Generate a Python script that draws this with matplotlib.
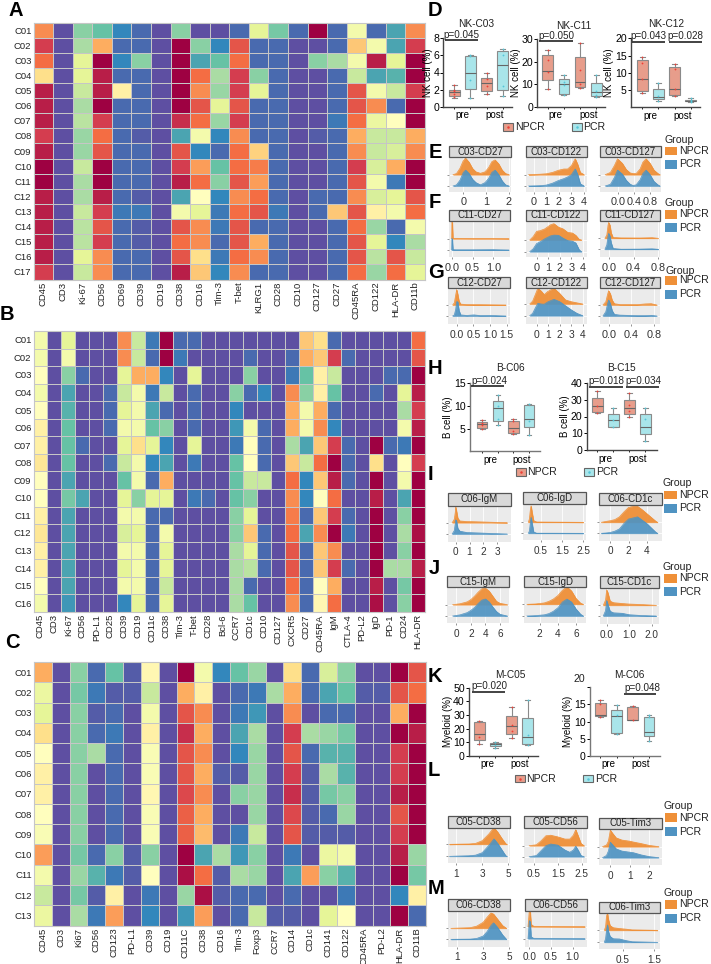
#!/usr/bin/env python3
"""Marker heatmaps (A-C), box plots and ridge plots (D-M) for NK, B and myeloid clusters."""

import matplotlib
matplotlib.use('Agg')
import matplotlib.pyplot as plt
from matplotlib.patches import Rectangle

plt.rcParams['font.family'] = ['Liberation Sans', 'DejaVu Sans']

W, H = 711, 964
NPCR_BOX, PCR_BOX = '#e79d8b', '#a9e5ea'
NPCR_DOT, PCR_DOT = '#ee3f36', '#55c6d8'
NPCR_RIDGE, PCR_RIDGE = '#ef9038', '#4f93c2'

# ---- heatmap values (expression colour rank, 0 = low, 20 = high)
rows_a = ['C%02d' % i for i in range(1, 18)]
markers_a = ['CD45', 'CD3', 'Ki-67', 'CD56', 'CD69', 'CD39', 'CD19', 'CD38', 'CD16', 'Tim-3', 'T-bet', 'KLRG1',
             'CD28', 'CD10', 'CD127', 'CD27', 'CD45RA', 'CD122', 'HLA-DR', 'CD11b']
values_a = [
    [15, 0, 5, 4, 2, 1, 0, 5, 0, 0, 1, 8, 4.5, 1, 20, 1, 9, 1, 3, 15],
    [18, 0, 6, 14, 1, 1, 0, 20, 5, 2, 17, 1, 1, 0, 0, 1, 13, 9, 3, 18],
    [16, 0, 8, 20, 2, 5, 0, 20, 3, 4, 16, 1, 1, 0, 5, 6, 9, 19, 8, 20],
    [12, 0, 8, 19, 1, 1, 0, 20, 16, 6, 18, 5, 1, 0, 0, 1, 7, 3, 3.5, 20],
    [19, 0, 7, 19, 11, 1, 0, 20, 15, 5.5, 18, 8, 1, 0, 0, 1, 17, 9, 7, 18],
    [19, 0, 6, 20, 1, 1, 0, 20, 17, 8, 17, 1, 1, 0, 0, 1, 17, 15, 1, 20],
    [19, 0, 6.5, 18, 1, 1, 0, 18.5, 16, 5.5, 18, 1, 1, 0, 0, 1.5, 16, 8.5, 10, 20],
    [18, 0, 5.5, 16, 1, 0.5, 0, 3, 9, 2, 15, 1, 1, 0, 0.5, 1, 14, 7, 7, 14],
    [19, 0, 5.5, 17, 1, 1, 0, 17, 2, 1, 16, 12.5, 1, 0, 0, 1, 15, 7, 7.5, 15],
    [20, 0, 7, 20, 1, 1, 0, 18, 14.5, 4, 16, 15.5, 1, 0, 0, 1, 18, 7.5, 14, 20],
    [20, 0, 6, 20, 1, 1, 0, 19, 16, 5, 17, 14.5, 1, 0, 0, 1, 17, 9, 1.5, 20],
    [19, 0, 6, 19, 1, 0.5, 0, 3, 10, 2, 15, 16, 1, 0, 1, 1, 15, 7.5, 8, 17],
    [19, 0, 7, 18, 1.5, 1.5, 0, 9, 8, 1.5, 16, 17, 1.5, 0, 1, 13, 17, 11, 9, 16],
    [19, 0, 6.5, 17, 1, 0.5, 0, 17, 15, 1.5, 17, 1, 1, 0, 0, 1, 16, 5.5, 1, 9],
    [19, 0, 6.5, 18, 1, 0.5, 0, 16, 15, 1, 17, 14, 1, 0, 0, 1, 17, 8, 2, 6],
    [19, 0, 8, 15, 1, 1, 0, 17, 12, 1.5, 16, 15, 1, 0, 0, 1, 17, 6.5, 17, 7],
    [18, 0, 7, 15, 1, 1, 0, 19, 13, 2, 15, 1, 1, 0, 0, 1, 16, 5.5, 16, 8],
]

rows_b = ['C%02d' % i for i in range(1, 17)]
markers_b = ['CD45', 'CD3', 'Ki-67', 'CD56', 'PD-L1', 'CD25', 'CD39', 'CD19', 'CD11c', 'CD38', 'Tim-3', 'T-bet',
             'CD28', 'Bcl-6', 'CCR7', 'CD1c', 'CD10', 'CD127', 'CXCR5', 'CD27', 'CD45RA', 'IgM', 'CTLA-4', 'PD-L2',
             'IgD', 'PD-1', 'CD24', 'HLA-DR']
values_b = [
    [9, 0, 8, 0, 0, 0, 15, 7, 1.5, 20, 1, 1, 0, 0, 0, 0, 0, 0, 0, 13, 12, 1, 0, 0, 0, 0, 0, 16],
    [9, 0, 9, 0, 0, 0, 15, 7, 1, 20, 1.5, 0, 0, 0, 0, 1, 0, 0, 1, 14, 13, 18, 1, 0, 0, 0, 0, 17],
    [10, 0, 5, 1, 0, 0, 8, 14, 14, 2, 0, 8, 0, 0, 0, 5, 0, 0, 1.5, 4, 11, 7, 0, 0, 0, 1, 1, 20],
    [9, 0, 3, 0, 0, 1, 7, 9, 1.5, 7, 0, 1, 0, 0, 5, 1, 2, 0, 15, 5, 11, 4, 0, 0, 1, 0, 8, 19],
    [10, 0, 3.5, 0, 0, 1, 8, 9, 3, 1, 0, 1, 0, 0, 2, 0, 0, 0, 14, 9, 14, 1, 0, 0, 0, 0, 6, 18],
    [11, 0, 4, 0, 0, 1, 9, 9, 4, 5, 0, 1, 0, 0, 2.5, 9, 1, 0, 14, 9, 15, 2, 0, 0, 0, 0, 9, 19],
    [11, 0, 4, 1, 0, 0, 8, 12, 8, 2, 0, 8, 0, 0, 1.5, 10, 1, 0, 6, 3, 13, 18, 1, 0, 20, 1, 1.5, 20],
    [11.5, 0, 4, 0, 0, 1, 7, 9, 2, 3, 0, 1.5, 0, 0, 4, 10, 1, 0, 13, 7, 16, 20, 1, 0, 12, 0, 10, 18],
    [10, 0, 3, 0, 0, 0, 4, 9, 1, 14, 0, 0, 0, 0, 4, 7, 7, 0, 16, 2, 13, 19, 1, 0, 20, 0, 9, 20],
    [10, 0, 4.5, 3, 0, 0, 8, 5, 8, 8, 0, 1.5, 1, 0, 4, 5, 0, 0, 15, 2, 10, 16, 0, 0, 19, 0, 3, 20],
    [11, 0, 3, 0, 0, 0, 9, 9, 1, 1, 0, 0, 0, 0, 5, 8, 0, 0, 15.5, 1, 13, 18, 1, 0, 20, 0, 5, 20],
    [11.5, 0, 3, 0, 0, 0, 7.5, 8, 1, 9, 0, 0, 0, 0, 5, 13, 1, 0, 16, 3, 15, 20, 1.5, 0, 20, 0, 6, 19.5],
    [11, 0, 3, 0, 0, 0, 9, 9, 1, 8, 0, 0, 0, 0, 6, 8, 1, 0, 17, 1, 13, 15, 0, 0, 20, 0, 5, 20],
    [11, 0, 3, 0, 0, 0, 8, 9, 1, 8, 0, 0, 0, 0, 6, 6.5, 1, 0, 17, 1, 13, 18, 1, 0, 20, 6, 6, 19],
    [10, 0, 3, 0, 0, 0, 9, 9, 1, 7, 0, 0, 0, 0, 6, 1, 0, 0, 16, 1, 10, 14, 0, 0, 19, 0, 4.5, 20],
    [9, 0, 2.5, 0, 0, 0, 2, 8, 1, 8, 0, 0, 0, 0, 6, 4, 0, 0, 15, 1, 10.5, 16, 0, 0, 19.5, 0, 5, 20],
]

rows_c = ['C%02d' % i for i in range(1, 14)]
markers_c = ['CD45', 'CD3', 'Ki67', 'CD56', 'CD123', 'PD-L1', 'CD39', 'CD19', 'CD11C', 'CD38', 'CD16', 'Tim-3',
             'Foxp3', 'CCR7', 'CD14', 'CD1c', 'CD141', 'CD122', 'CD45RA', 'PD-L2', 'HLA-DR', 'CD11B']
values_c = [
    [14, 0, 5, 1, 4, 0.5, 10.5, 0, 20, 9, 2, 4, 5.5, 0, 12, 1, 7.5, 5, 0, 0, 20, 17],
    [8.5, 0, 4.5, 1.5, 0.5, 0.5, 7, 0, 14, 11, 0, 1, 1.5, 6, 14, 1, 3, 4, 0.5, 0.5, 17, 16],
    [8, 0, 5, 0.5, 1, 0, 9, 0, 17, 15, 0, 1.5, 2.5, 0, 15, 0, 1, 1, 0, 0, 14, 20],
    [12, 0, 5, 1, 1.5, 0, 11, 0, 18.5, 14, 0, 3, 6, 0, 18, 6, 5.5, 4.5, 0, 0, 20, 19],
    [10, 0, 5, 6, 1, 0, 9.5, 0, 17, 15, 0, 2, 5.5, 0, 17, 1, 3.5, 3.5, 0, 0, 18, 20],
    [11, 0, 5, 0, 1, 0, 9.5, 0, 17, 14, 0.5, 0.5, 5.5, 0, 18, 0.5, 6, 3.5, 0, 0, 18, 20],
    [11, 0, 5, 0, 1, 0, 10.5, 0, 17.5, 15, 0, 5, 5.5, 0, 18.5, 0.5, 4.5, 5, 0, 0, 19, 20],
    [10, 0, 5, 0, 1, 0, 9.5, 0, 16.5, 14, 0, 0, 5.5, 0, 17.5, 0.5, 1, 5.5, 0, 0, 17, 20],
    [9.5, 0, 5, 0, 1, 0, 9.5, 0, 16.5, 13.5, 0, 1.5, 7, 0, 17, 0.5, 0.5, 0.5, 0, 0, 18, 20],
    [14.5, 0, 4.5, 1, 5, 0.5, 5, 0, 20, 3, 6, 2.5, 5, 0, 1.5, 0, 8.5, 9, 0, 0, 19, 5.5],
    [9, 0, 5.5, 3.5, 1.5, 0.5, 10, 0, 19.5, 16, 0.5, 6, 5.5, 0, 3, 14.5, 5, 3.5, 0, 0, 20, 4.5],
    [7, 0, 4.5, 0.5, 11, 0, 1.5, 0, 5.5, 19.5, 0.5, 1, 1, 0, 1, 0, 0, 1.5, 0, 0, 2, 11],
    [8.5, 0, 6, 1.5, 14.5, 0, 2, 0, 2.5, 14.5, 0, 1, 7, 0.5, 0.5, 0, 8, 10, 0, 0, 20, 1],
]

# ---- box plot stats per box: whisker low, q1, median, q3, whisker high (order NPCR pre, PCR pre, NPCR post, PCR post)
nk_c03_stats = [[1.05, 1.25, 1.7, 2.0, 2.5], [1.0, 2.05, 3.9, 5.9, 6.0], [1.5, 1.8, 2.8, 3.4, 4.0], [1.2, 1.9, 4.9, 6.5, 6.7]]
nk_c03_points = [[1.1, 1.5, 1.8, 2.0, 2.5], [1.0, 3.1, 5.9, 6.0], [1.5, 2.4, 3.2, 4.0], [1.2, 2.4, 6.1, 6.7]]
nk_c11_stats = [[8.0, 11.8, 15.9, 22.9, 25.0], [5.1, 5.9, 10.1, 12.2, 14.0], [8.2, 9.0, 10.9, 22.2, 28.4], [4.4, 4.9, 6.5, 10.4, 14.0]]
nk_c11_points = [[8.0, 15.5, 20.8, 25.0], [5.1, 9.5, 11.0, 14.0], [8.2, 10.2, 16.2, 28.4], [4.4, 5.5, 7.2, 14.0]]
nk_c12_stats = [[4.2, 4.7, 8.1, 13.7, 14.7], [1.9, 2.5, 2.9, 5.2, 6.9], [3.3, 3.6, 5.3, 11.7, 12.6], [1.5, 1.7, 1.9, 2.2, 2.6]]
nk_c12_points = [[4.2, 8.1, 12.8, 14.7], [1.9, 3.2, 6.9], [3.3, 5.2, 11.2, 12.6], [1.5, 1.9, 2.1, 2.6]]
b_c06_stats = [[5.0, 5.1, 6.0, 6.4, 7.0], [5.9, 6.8, 9.6, 11.2, 12.5], [3.9, 4.1, 5.1, 6.8, 7.1], [3.7, 5.3, 7.2, 10.2, 10.4]]
b_c06_points = [[5.0, 5.8, 6.2, 7.0], [5.9, 7.2, 10.0, 12.5], [3.9, 4.4, 6.8, 7.1], [3.7, 6.8, 10.4]]
b_c15_stats = [[21.9, 22.5, 26.2, 30.9, 35.2], [13.6, 14.0, 17.9, 21.3, 24.8], [19.5, 21.5, 25.0, 30.0, 34.0], [5.5, 9.5, 13.8, 21.7, 25.2]]
b_c15_points = [[21.9, 26.5, 35.2], [13.6, 18.0, 24.8], [19.5, 23.0, 27.0, 34.0], [5.5, 18.5, 25.2]]
m_c05_stats = [[8.8, 11.7, 15.9, 24.6, 25.4], [6.0, 7.0, 8.5, 9.5, 10.0], [13.0, 15.9, 22.0, 29.5, 35.9], [7.8, 8.5, 13.6, 28.0, 41.0]]
m_c05_points = [[8.8, 14.0, 25.4], [6.0, 8.0, 10.0], [13.0, 18.0, 22.5, 35.9], [7.8, 15.5, 41.0]]
m_c06_stats = [[11.2, 11.5, 11.9, 15.5, 16.2], [6.4, 6.7, 11.5, 13.2, 14.9], [10.4, 10.4, 10.5, 14.2, 14.5], [4.3, 5.7, 6.9, 11.2, 12.0]]
m_c06_points = [[11.2, 15.2, 16.2], [6.4, 11.8, 14.9], [10.4, 14.5], [4.3, 11.2, 12.0]]

# ---- ridge curves: x positions, then height above the ridge baseline (1 = spacing between baselines)
c03_cd27_x = [-0.45, -0.3, -0.15, 0, 0.1, 0.25, 0.4, 0.55, 0.75, 0.95, 1.1, 1.25, 1.39, 1.55, 1.7, 1.85, 2.0]
c03_cd27_n = [0, .1, .55, 1.25, 1.45, 1.1, .55, .25, .12, .25, .6, 1.15, 1.3, .95, .4, .1, 0]
c03_cd27_p = [0, .1, .5, 1.2, 1.4, 1.1, .6, .3, .1, .3, .65, 1.2, 1.4, 1.0, .45, .1, 0]
c03_cd122_x = [-.4, .5, 1, 1.5, 2, 2.4, 2.7, 3, 3.3, 3.5, 3.7, 4]
c03_cd122_n = [0, .04, .08, .2, .4, .5, .5, .8, 1.4, .9, .2, 0]
c03_cd122_p = [0, .03, .08, .25, .5, .65, .8, 1.0, 1.5, 1.0, .2, 0]
c03_cd127_x = [-.33, -.2, -.1, -.02, .1, .2, .3, .37, .45, .55, .62, .7, .8, .9, 1.0, 1.05]
c03_cd127_n = [0, .2, .8, 1.4, 1.0, .45, .15, .1, .1, .5, 1.1, 1.4, 1.0, .4, .1, 0]
c03_cd127_p = [0, .15, .75, 1.4, 1.05, .5, .15, .05, .1, .55, 1.1, 1.4, 1.0, .4, .1, 0]

c11_cd27_x = [0, .005, .015, .03, .1, .5, 1, 1.37]
c11_cd27_n = [0, 1.45, 1.45, .03, .03, .02, .02, 0]
c11_cd27_p = [0, 1.0, 1.0, .03, .02, .02, .03, 0]
c11_cd122_x = [-.6, -.3, 0, .3, .7, 1.2, 1.5, 1.9, 2.3, 2.7, 3.1, 3.4, 3.7, 3.9]
c11_cd122_n = [0, .3, .75, .8, .95, 1.3, 1.4, 1.1, .95, .65, .6, .4, .05, 0]
c11_cd122_p = [0, .25, .7, .85, 1.1, 1.35, 1.42, 1.4, 1.15, .95, .9, .75, .15, 0]
c11_cd127_x = [-.06, -.03, -.01, 0, .02, .04, .07, .2, .5, .7, .8]
c11_cd127_n = [0, .3, 1.2, 1.45, 1.2, .5, .08, .04, .03, .06, 0]
c11_cd127_p = [0, .4, 1.2, 1.45, 1.2, .6, .08, .01, .02, .05, 0]

c12_cd27_x = [-.12, -.07, -.03, 0, .03, .07, .12, .3, .52, .7, 1, 1.47]
c12_cd27_n = [0, .2, .9, 1.4, 1.0, .35, .08, .04, .03, .03, .02, 0]
c12_cd27_p = [0, .1, .6, 1.3, 1.3, .5, .1, .05, .1, .04, .05, 0]
c12_cd122_x = [-.6, -.35, -.1, .1, .4, .65, 1, 1.5, 2, 2.5, 3, 3.5, 4]
c12_cd122_n = [0, .25, .85, 1.35, 1.1, .8, 1.1, 1.35, .9, .35, .2, .1, 0]
c12_cd122_p = [0, .2, .7, 1.05, 1.0, .98, 1.2, 1.4, 1.2, .85, .5, .2, 0]
c12_cd127_x = [-.1, -.05, -.02, 0, .03, .06, .1, .2, .5, .65, .75, .85]
c12_cd127_n = [0, .3, .95, 1.3, 1.0, .45, .12, .04, .03, .1, .12, 0]
c12_cd127_p = [0, .4, 1.1, 1.45, 1.1, .5, .15, .08, .03, .03, .06, 0]

c06_igm_x = [-.25, -.1, -.03, 0, .05, .15, .3, .8, 1.5, 2.5, 3.7]
c06_igm_n = [0, .3, .9, 1.4, 1.1, .4, .15, .1, .08, .04, 0]
c06_igm_p = [0, .3, .9, 1.25, 1.2, .5, .25, .13, .1, .05, 0]
c06_igd_x = [-.1, -.05, 0, .03, .08, .15, .3, 1, 2.5]
c06_igd_n = [0, .3, 1.2, 1.5, .9, .15, .03, .02, 0]
c06_igd_p = [0, .2, 1.0, 1.45, .9, .12, .01, .01, 0]
c06_cd1c_x = [-1, -.5, 0, .5, 1, 1.5, 2, 2.5, 3, 3.5, 4, 4.5, 5, 5.2]
c06_cd1c_n = [0, .08, .15, .25, .5, .95, 1.35, 1.45, 1.45, 1.15, .8, .45, .1, 0]
c06_cd1c_p = [0, .03, .08, .2, .4, .9, 1.3, 1.4, 1.5, 1.2, .9, .5, .1, 0]

c15_igm_x = [-.5, .5, 1.5, 2, 2.5, 3, 3.5, 4, 4.5, 5, 5.5, 6, 7]
c15_igm_n = [0, .08, .25, .45, .75, 1.1, 1.4, 1.45, 1.2, .75, .3, .12, 0]
c15_igm_p = [0, .1, .3, .5, .75, 1.1, 1.4, 1.5, 1.25, .8, .4, .15, 0]
c15_igd_x = [.6, 1.5, 2.5, 3, 3.5, 4, 4.5, 5, 5.5, 6, 6.5, 6.8]
c15_igd_n = [0, .03, .12, .25, .45, .75, 1.2, 1.5, 1.15, .5, .1, 0]
c15_igd_p = [0, .03, .1, .2, .4, .7, 1.2, 1.45, 1.2, .6, .15, 0]
c15_cd1c_x = [-.15, -.05, 0, .05, .15, .3, .7, 1, 1.5, 2.2]
c15_cd1c_n = [0, .5, 1.45, 1.2, .4, .25, .17, .12, .08, 0]
c15_cd1c_p = [0, .5, 1.45, 1.1, .45, .3, .25, .12, .05, 0]

c05_cd38_x = [.5, 2, 2.5, 3, 3.5, 3.9, 4.2, 4.5, 4.8, 4.9]
c05_cd38_n = [0, .03, .08, .3, .85, 1.4, 1.0, .5, .05, 0]
c05_cd38_p = [0, .05, .1, .3, .9, 1.45, 1.05, .55, .05, 0]
c05_cd56_x = [.3, .6, .8, 1, 1.2, 1.5, 1.8, 2, 2.15, 2.25, 2.35, 2.47, 2.6]
c05_cd56_n = [0, .08, .45, .9, .95, .8, .6, .6, .95, 1.45, .9, .2, 0]
c05_cd56_p = [0, .1, .55, 1.0, 1.15, 1.05, .6, .4, .6, .95, .6, .1, 0]
c05_tim3_x = [-.4, -.2, -.1, 0, .1, .3, .6, 1, 1.2, 1.6, 2, 2.5]
c05_tim3_n = [0, .15, .5, 1.5, 1.25, .8, .6, .5, .42, .28, .12, 0]
c05_tim3_p = [0, .2, .6, 1.4, 1.2, .8, .6, .5, .45, .25, .1, 0]

c06_cd38_x = [.5, 2, 2.5, 3, 3.3, 3.6, 3.8, 4.1, 4.5, 4.8]
c06_cd38_n = [0, .06, .2, .55, 1.0, 1.4, 1.3, .85, .25, 0]
c06_cd38_p = [0, .02, .08, .3, .7, 1.25, 1.5, 1.1, .4, 0]
c06_cd56_x = [-.03, 0, .02, .04, .1, .5, 1.28]
c06_cd56_n = [0, 1.4, 1.3, .2, .03, .02, 0]
c06_cd56_p = [0, 1.5, 1.4, .15, .03, .02, 0]
c06_tim3_x = [-.08, -.04, -.01, .02, .05, .1, .2, .4, .6, .8, 1.6]
c06_tim3_n = [0, .3, 1.2, 1.4, .9, .4, .22, .15, .1, .04, 0]
c06_tim3_p = [0, .3, 1.0, 1.45, .9, .5, .3, .28, .15, .05, 0]


def add_axes(fig, x0, y0, x1, y1):
    # pixel rectangle, y measured from the top of the image
    return fig.add_axes([x0 / W, 1 - y1 / H, (x1 - x0) / W, (y1 - y0) / H])


def heatmap(fig, box, values, rows, markers):
    ax = add_axes(fig, *box)
    ax.pcolormesh(values, cmap='Spectral_r', vmin=0, vmax=20, edgecolors='#c6c6c6', linewidth=0.5)
    ax.invert_yaxis()
    ax.set_xticks([i + 0.5 for i in range(len(markers))], markers, rotation=90, fontsize=6.8)
    ax.set_yticks([i + 0.5 for i in range(len(rows))], rows, fontsize=6.8)
    ax.tick_params(length=0, pad=1.5, colors='#222222')
    for s in ax.spines.values():
        s.set_color('#c6c6c6')
        s.set_linewidth(0.8)


def box_panel(fig, ox, oy, zx0, zx1, ztop, zbot, zfirst, zstep, ymax, yticks, ylabel, title, ztitle, stats, points,
              spine='#444444', hide_labels=()):
    # z* values are read on a 3x crop whose top-left corner is (ox, oy)
    x0, x1 = ox + zx0 / 3, ox + zx1 / 3
    ax = add_axes(fig, x0, oy + ztop / 3, x1, oy + zbot / 3)
    first, step = ox + zfirst / 3, zstep / 3
    ax.set_xlim(1 + (x0 - first) / step, 1 + (x1 - first) / step)
    ax.set_ylim(0, ymax)
    bxp_stats = [dict(whislo=s[0], q1=s[1], med=s[2], q3=s[3], whishi=s[4], fliers=[]) for s in stats]
    art = ax.bxp(bxp_stats, positions=[1, 2, 3, 4], widths=0.66, capwidths=0.3, patch_artist=True, showfliers=False,
                 manage_ticks=False, boxprops=dict(edgecolor='#8a8a8a', linewidth=0.8),
                 whiskerprops=dict(color='#8a8a8a', linewidth=0.8), capprops=dict(color='#8a8a8a', linewidth=0.8),
                 medianprops=dict(color='#666666', linewidth=0.8))
    for i, b in enumerate(art['boxes']):
        b.set_facecolor(NPCR_BOX if i % 2 == 0 else PCR_BOX)
    for i, vals in enumerate(points):
        ax.plot([i + 1] * len(vals), vals, ls='none', marker='o', ms=1.3, mew=0,
                color=NPCR_DOT if i % 2 == 0 else PCR_DOT, zorder=5)
    ax.spines[['top', 'right']].set_visible(False)
    ax.spines[['left', 'bottom']].set_color(spine)
    ax.spines[['left', 'bottom']].set_linewidth(1.0)
    ylabels = ['' if t in hide_labels else str(t) for t in yticks]
    ax.set_yticks(yticks, ylabels, fontsize=7.6)
    ax.set_xticks([1, 2, 3, 4], [])
    ax.set_xticks([1.5, 3.5], ['pre', 'post'], minor=True, fontsize=7.0)
    ax.tick_params(axis='y', length=2, pad=1, width=0.7)
    ax.tick_params(axis='x', which='major', length=1.5, width=0.6)
    ax.tick_params(axis='x', which='minor', length=0, pad=2.5)
    ax.set_ylabel(ylabel, fontsize=7.0, labelpad=0.5)
    ax.patch.set_alpha(0)
    overlay.text(ox + ztitle[0] / 3, oy + ztitle[1] / 3, title, ha='center', va='center', fontsize=7.3, color='#222222')


def sig_bar(ox, oy, zx0, zx1, zbar, ztext_x, ztext_y, label):
    overlay.plot([ox + zx0 / 3, ox + zx1 / 3], [oy + zbar / 3] * 2, color='#222222', lw=1.2, solid_capstyle='butt')
    overlay.text(ox + ztext_x / 3, oy + ztext_y / 3, label, ha='center', va='center', fontsize=7.1, color='#222222')


def box_legend(ox, oy, zx_npcr, zx_pcr, zy):
    for zx, fc, dot, name in [(zx_npcr, NPCR_BOX, NPCR_DOT, 'NPCR'), (zx_pcr, PCR_BOX, PCR_DOT, 'PCR')]:
        overlay.add_patch(Rectangle((ox + zx / 3, oy + zy / 3 - 3.6), 10, 7.2, fc=fc, ec='#666666', lw=0.8))
        overlay.plot([ox + zx / 3 + 5], [oy + zy / 3], marker='o', ms=1.8, mew=0, color=dot)
        overlay.text(ox + zx / 3 + 11.5, oy + zy / 3, name, ha='left', va='center', fontsize=7.6, color='#222222')


def ridge(fig, ox, oy, zx0, zx1, zs0, zs1, zbot, zn, zp, ticks, labels, ztick, name, xs, npcr, pcr, tick_fs=7.2):
    # zs0/zs1: strip top and bottom, zn/zp: NPCR and PCR baselines, ztick: crop x of first and last tick
    x0, x1 = ox + zx0 / 3, ox + zx1 / 3
    strip_y0, strip_y1, bot = oy + zs0 / 3, oy + zs1 / 3, oy + zbot / 3
    base_n, base_p = oy + zn / 3, oy + zp / 3
    ax = add_axes(fig, x0, strip_y1, x1, bot)
    ax.set_facecolor('#ebebeb')
    t0, t1 = ox + ztick[0] / 3, ox + ztick[1] / 3
    per_px = (ticks[-1] - ticks[0]) / (t1 - t0)
    ax.set_xlim(ticks[0] + (x0 - t0) * per_px, ticks[0] + (x1 - t0) * per_px)
    spacing = base_p - base_n
    ax.set_ylim(1 - (bot - base_p) / spacing, 1 + (base_p - strip_y1) / spacing)
    ax.set_axisbelow(True)
    ax.grid(True, color='white', lw=0.6)
    ax.fill_between(xs, 2, [2 + v for v in npcr], color=NPCR_RIDGE, alpha=0.95, lw=0.4, zorder=3)
    ax.plot(xs, [2 + v for v in npcr], color=NPCR_RIDGE, lw=0.5, zorder=3)
    ax.fill_between(xs, 1, [1 + v for v in pcr], color=PCR_RIDGE, alpha=0.92, lw=0.4, zorder=4)
    ax.plot(xs, [1 + v for v in pcr], color=PCR_RIDGE, lw=0.5, zorder=4)
    ax.set_xticks(ticks, labels, fontsize=tick_fs)
    ax.set_yticks([1, 2], [])
    ax.tick_params(axis='x', length=1.5, width=0.5, color='#666666', pad=2.5, labelcolor='#333333')
    ax.tick_params(axis='y', length=1.2, width=0.5, color='#666666')
    for s in ax.spines.values():
        s.set_visible(False)
    overlay.add_patch(Rectangle((x0, strip_y0), x1 - x0, strip_y1 - strip_y0, fc='#d9d9d9', ec='#555555', lw=0.9))
    overlay.text((x0 + x1) / 2, (strip_y0 + strip_y1) / 2, name, ha='center', va='center', fontsize=7.0, color='#222222')


def group_legend(ox, oy, ztitle_x, ztitle_y, zx, zy_npcr, zy_pcr):
    overlay.text(ox + ztitle_x / 3, oy + ztitle_y / 3, 'Group', ha='left', va='center', fontsize=7.6, color='#222222')
    for zy, col, name in [(zy_npcr, NPCR_RIDGE, 'NPCR'), (zy_pcr, PCR_RIDGE, 'PCR')]:
        overlay.add_patch(Rectangle((ox + zx / 3, oy + zy / 3), 12.3, 8.7, fc=col, ec='none'))
        overlay.text(ox + zx / 3 + 14.5, oy + zy / 3 + 4.3, name, ha='left', va='center', fontsize=7.6, color='#222222')


fig = plt.figure(figsize=(W / 100, H / 100), dpi=100)
overlay = add_axes(fig, 0, 0, W, H)
overlay.set_xlim(0, W)
overlay.set_ylim(H, 0)
overlay.axis('off')
overlay.set_zorder(10)

heatmap(fig, (33.5, 22.5, 425, 279.5), values_a, rows_a, markers_a)
heatmap(fig, (33.5, 331, 425, 612), values_b, rows_b, markers_b)
heatmap(fig, (34, 662, 426, 925.5), values_c, rows_c, markers_c)

# D
box_panel(fig, 425, 0, 55, 262, 115, 320, 88, 48.3, 8, [0, 2, 4, 6, 8], 'NK cell (%)', 'NK-C03', (155, 72), nk_c03_stats, nk_c03_points)
box_panel(fig, 425, 0, 337, 540, 117, 321, 368, 48.7, 30, [0, 10, 20, 30], 'NK cell (%)', 'NK-C11', (447, 78), nk_c11_stats, nk_c11_points)
box_panel(fig, 425, 0, 618, 825, 115, 321.6, 652, 48.3, 20, [5, 10, 15, 20], 'NK cell (%)', 'NK-C12', (722, 72), nk_c12_stats, nk_c12_points)
sig_bar(425, 0, 60, 160, 121, 110, 105, 'p=0.045')
sig_bar(425, 0, 343, 445, 123, 394, 108, 'p=0.050')
sig_bar(425, 0, 620, 720, 126, 670, 108, 'p=0.043')
sig_bar(425, 0, 733, 832, 126, 782, 108, 'p=0.028')
box_legend(425, 0, 235, 440, 381)

# E, F, G
ridge(fig, 425, 140, 72, 258, 18, 52, 155, 104, 138, [0, 1, 2], ['0', '1', '2'], (115, 252), 'C03-CD27', c03_cd27_x, c03_cd27_n, c03_cd27_p, tick_fs=7.8)
ridge(fig, 425, 140, 302, 487, 18, 52, 155, 104, 138, [0, 1, 2, 3, 4], ['0', '1', '2', '3', '4'], (326, 477), 'C03-CD122', c03_cd122_x, c03_cd122_n, c03_cd122_p, tick_fs=7.8)
ridge(fig, 425, 140, 525, 708, 18, 52, 155, 104, 138, [0.0, 0.4, 0.8], ['0.0', '0.4', '0.8'], (580, 675), 'C03-CD127', c03_cd127_x, c03_cd127_n, c03_cd127_p, tick_fs=7.8)
ridge(fig, 425, 140, 72, 255, 210, 243, 352, 296, 330, [0.0, 0.5, 1.0], ['0.0', '0.5', '1.0'], (80, 205), 'C11-CD27', c11_cd27_x, c11_cd27_n, c11_cd27_p, tick_fs=7.8)
ridge(fig, 425, 140, 302, 485, 210, 243, 352, 300, 335, [0, 1, 2, 3, 4], ['0', '1', '2', '3', '4'], (335, 473), 'C11-CD122', c11_cd122_x, c11_cd122_n, c11_cd122_p, tick_fs=7.8)
ridge(fig, 425, 140, 525, 705, 210, 243, 352, 295, 328, [0.0, 0.4, 0.8], ['0.0', '0.4', '0.8'], (551, 700), 'C11-CD127', c11_cd127_x, c11_cd127_n, c11_cd127_p, tick_fs=7.8)
ridge(fig, 425, 140, 70, 255, 410, 445, 553, 495, 528, [0.0, 0.5, 1.0, 1.5], ['0.0', '0.5', '1.0', '1.5'], (95, 245), 'C12-CD27', c12_cd27_x, c12_cd27_n, c12_cd27_p, tick_fs=7.4)
ridge(fig, 425, 140, 302, 485, 410, 445, 553, 492, 527, [0, 1, 2, 3, 4], ['0', '1', '2', '3', '4'], (335, 473), 'C12-CD122', c12_cd122_x, c12_cd122_n, c12_cd122_p, tick_fs=7.4)
ridge(fig, 425, 140, 525, 705, 410, 445, 553, 495, 528, [0.0, 0.4, 0.8], ['0.0', '0.4', '0.8'], (551, 687), 'C12-CD127', c12_cd127_x, c12_cd127_n, c12_cd127_p, tick_fs=7.8)
group_legend(425, 140, 718, 0, 720, 20, 60)
group_legend(425, 140, 718, 190, 720, 210, 250)
group_legend(425, 140, 722, 393, 720, 408, 450)

# H
box_panel(fig, 425, 335, 135, 345, 145, 349, 172, 46.7, 15, [5, 10, 15], 'B cell (%)', 'B-C06', (257, 98), b_c06_stats, b_c06_points, spine='#777777')
box_panel(fig, 425, 335, 485, 695, 143, 346, 517, 48, 40, [0, 10, 20, 30, 40], 'B cell (%)', 'B-C15', (590, 100), b_c15_stats, b_c15_points)
sig_bar(425, 335, 138, 237, 153, 194, 138, 'p=0.024')
sig_bar(425, 335, 493, 595, 157, 544, 138, 'p=0.018')
sig_bar(425, 335, 603, 702, 157, 654, 138, 'p=0.034')
box_legend(425, 460, 273, 478, 36)

# I, J
ridge(fig, 425, 460, 70, 257, 100, 137, 245, 188, 222, [0, 1, 2, 3], ['0', '1', '2', '3'], (92, 217), 'C06-IgM', c06_igm_x, c06_igm_n, c06_igm_p)
ridge(fig, 425, 460, 295, 482, 97, 133, 240, 187, 220, [0.5, 1.5, 2.5], ['0.5', '1.5', '2.5'], (348, 475), 'C06-IgD', c06_igd_x, c06_igd_n, c06_igd_p)
ridge(fig, 425, 460, 523, 710, 100, 135, 242, 187, 220, [0, 2, 4], ['0', '2', '4'], (556, 665), 'C06-CD1c', c06_cd1c_x, c06_cd1c_n, c06_cd1c_p)
ridge(fig, 425, 460, 67, 253, 348, 382, 490, 434, 468, [0, 2, 4, 6], ['0', '2', '4', '6'], (94, 225), 'C15-IgM', c15_igm_x, c15_igm_n, c15_igm_p)
ridge(fig, 425, 460, 297, 483, 348, 382, 490, 433, 468, [2, 4, 6], ['2', '4', '6'], (344, 453), 'C15-IgD', c15_igd_x, c15_igd_n, c15_igd_p)
ridge(fig, 425, 460, 525, 702, 348, 385, 492, 436, 468, [0.0, 1.0, 2.0], ['0.0', '1.0', '2.0'], (545, 680), 'C15-CD1c', c15_cd1c_x, c15_cd1c_n, c15_cd1c_p)
group_legend(425, 460, 713, 70, 718, 92, 132)
group_legend(425, 460, 713, 320, 718, 342, 382)

# K
box_panel(fig, 425, 625, 132, 340, 188, 393, 163, 48.3, 50, [0, 10, 20, 30, 40, 50], 'Myeloid (%)', 'M-C05', (257, 149), m_c05_stats, m_c05_points)
box_panel(fig, 425, 625, 495, 705, 186, 393, 526, 48.7, 20, [0, 5, 10, 15, 20], 'Myeloid (%)', 'M-C06', (613, 149), m_c06_stats, m_c06_points, spine='#777777', hide_labels=(20,))
overlay.text(425 + 462 / 3, 625 + 163 / 3, '20', ha='center', va='center', fontsize=7.6, color='#222222')
sig_bar(425, 625, 142, 240, 200, 194, 182, 'p=0.020')
sig_bar(425, 625, 596, 692, 206, 653, 188, 'p=0.048')
box_legend(425, 750, 270, 475, 86)

# L, M
ridge(fig, 425, 750, 68, 255, 198, 235, 340, 283, 319, [1, 3, 5], ['1', '3', '5'], (93, 250), 'C05-CD38', c05_cd38_x, c05_cd38_n, c05_cd38_p)
ridge(fig, 425, 750, 298, 485, 198, 235, 340, 287, 320, [0.5, 1.5, 2.5], ['0.5', '1.5', '2.5'], (327, 470), 'C05-CD56', c05_cd56_x, c05_cd56_n, c05_cd56_p)
ridge(fig, 425, 750, 523, 710, 203, 238, 345, 290, 323, [0, 1, 2], ['0', '1', '2'], (556, 672), 'C05-Tim3', c05_tim3_x, c05_tim3_n, c05_tim3_p)
ridge(fig, 425, 750, 68, 255, 447, 483, 590, 535, 568, [1, 3, 5], ['1', '3', '5'], (97, 252), 'C06-CD38', c06_cd38_x, c06_cd38_n, c06_cd38_p)
ridge(fig, 425, 750, 300, 485, 447, 483, 590, 530, 566, [0.0, 0.5, 1.0], ['0.0', '0.5', '1.0'], (313, 443), 'C06-CD56', c06_cd56_x, c06_cd56_n, c06_cd56_p)
ridge(fig, 425, 750, 523, 705, 455, 490, 597, 541, 577, [0.5, 1.5], ['0.5', '1.5'], (593, 688), 'C06-Tim3', c06_tim3_x, c06_tim3_n, c06_tim3_p)
group_legend(425, 750, 715, 168, 720, 190, 232)
group_legend(425, 750, 715, 428, 720, 450, 492)

# panel letters
letters = ['A', 'B', 'C', 'D', 'E', 'F', 'G', 'H', 'I', 'J', 'K', 'L', 'M']
letter_x = [16, 7, 12, 435, 435, 435, 436, 435, 430, 434, 435, 434, 436]
letter_y = [10, 315, 643, 10, 153, 202, 273, 368, 475, 569, 677, 770, 888]
for name, lx, ly in zip(letters, letter_x, letter_y):
    overlay.text(lx, ly, name, ha='center', va='center', fontsize=14.5, fontweight='bold', color='black')

fig.savefig('out.png', dpi=100)
